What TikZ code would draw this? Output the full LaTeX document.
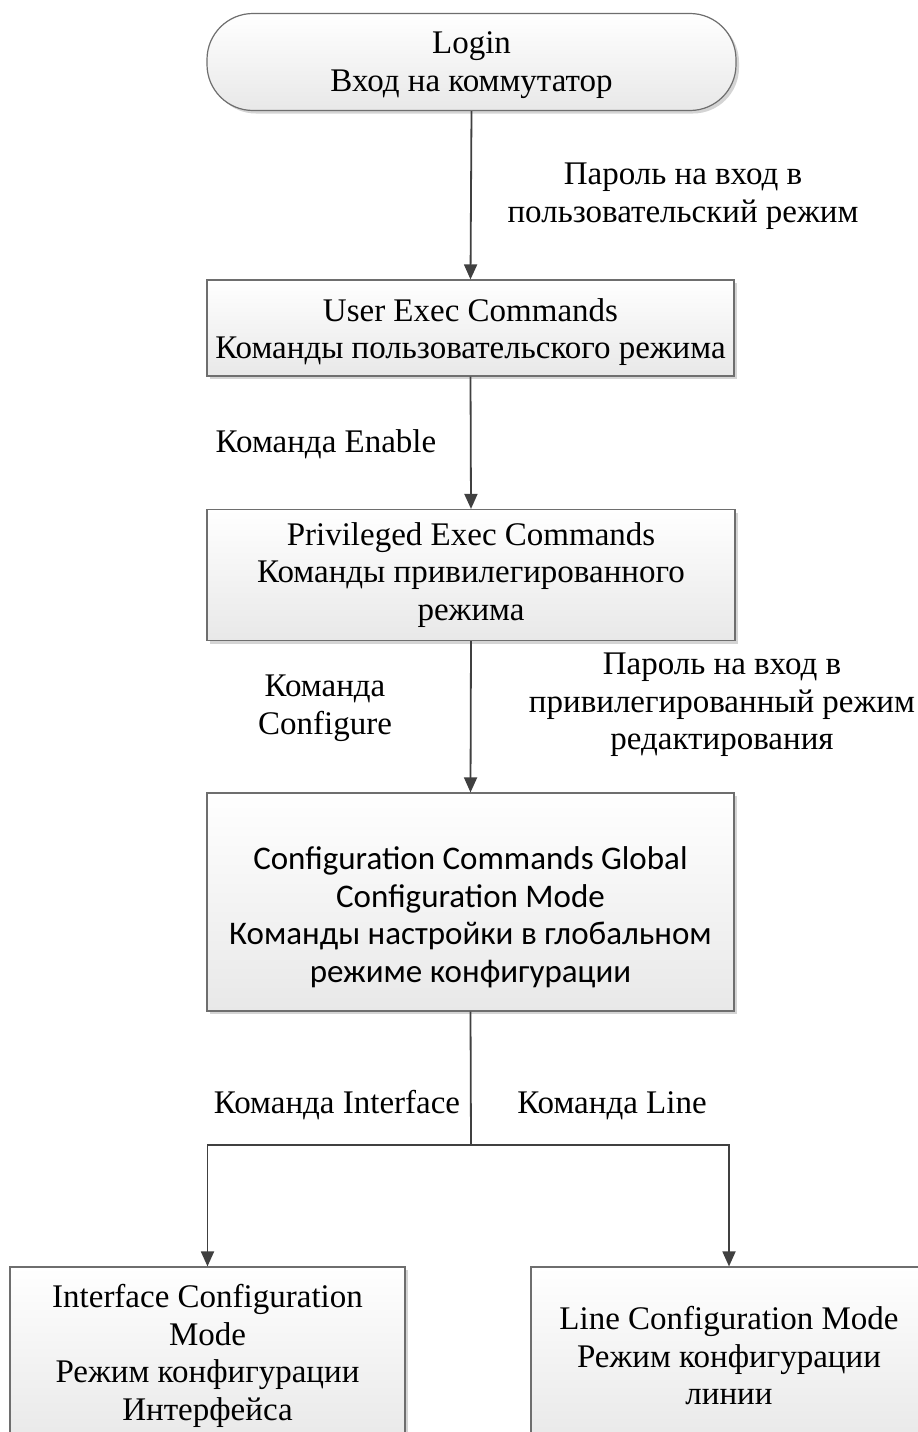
\documentclass[tikz,border=0pt]{standalone}
\usepackage{fontspec}
\setmainfont{Liberation Serif}
\newfontfamily\calib{Carlito}
\usetikzlibrary{arrows.meta,shadows,calc}
\definecolor{linec}{HTML}{404040}
\definecolor{borderc}{HTML}{6E6E6E}
\definecolor{shadowc}{HTML}{D4D4D4}
\tikzset{
  boxbase/.style={draw=borderc, line width=1.2pt, top color=white, bottom color=black!9,
    drop shadow={shadow xshift=3pt, shadow yshift=-3pt, fill=shadowc, opacity=1},
    align=center, inner sep=0pt, font=\fontsize{33}{37.5}\selectfont},
  termbox/.style={boxbase, rounded corners=46pt, minimum width=529pt, minimum height=97pt},
  modebox/.style={boxbase, rectangle},
  lbl/.style={align=center, inner sep=0pt, font=\fontsize{33}{37.5}\selectfont},
  conn/.style={draw=linec, line width=1.8pt},
  arr/.style={conn, -{Triangle[length=15pt,width=13pt]}}
}
\begin{document}
\begin{tikzpicture}[x=1pt,y=-1pt]
\clip (0,0) rectangle (918,1432);
\fill[white] (0,0) rectangle (918,1432);

\node[termbox] (login) at (471.5,62) {};
\node[lbl] (logintext) at ($(login.center)+(0,3)$) {Login\\Вход на коммутатор};
\node[modebox, minimum width=527pt, minimum height=96pt] (user) at (470.5,328) {};
\node[lbl] (usertext) at ($(user.center)+(0,4)$) {User Exec Commands\\Команды пользовательского режима};
\node[modebox, minimum width=528pt, minimum height=131pt] (priv) at (471,575) {Privileged Exec Commands\\Команды привилегированного\\режима};
\node[modebox, minimum width=527pt, minimum height=218pt] (conf) at (470.5,902) {};
\node[lbl, font=\calib\fontsize{33}{37.5}\selectfont] (conftext) at ($(conf.center)+(0,15)$) {Configuration Commands Global\\Configuration Mode\\Команды настройки в глобальном\\режиме конфигурации};
\node[modebox, minimum width=395pt, minimum height=178pt] (iface) at (207.5,1356) {Interface Configuration\\Mode\\Режим конфигурации\\Интерфейса};
\node[modebox, minimum width=396pt, minimum height=178pt] (line) at (729,1356) {Line Configuration Mode\\Режим конфигурации\\линии};

\node[lbl] (l1) at (683,196) {Пароль на вход в\\пользовательский режим};
\node[lbl] (l2) at (326,444) {Команда Enable};
\node[lbl] (l3) at (325,708) {Команда\\Configure};
\node[lbl] (l4) at (722,705) {Пароль на вход в\\привилегированный режим\\редактирования};
\node[lbl, anchor=base] (l5) at (337,1113) {Команда Interface};
\node[lbl, anchor=base] (l6) at (612,1113) {Команда Line};

\coordinate (j) at (471,1145);
\draw[arr] (login.south) -- (user.north);
\draw[arr] (user.south) -- (priv.north);
\draw[arr] (priv.south) -- (conf.north);
\draw[conn] (conf.south) -- (j);
\draw[arr] (j) -| (iface.north);
\draw[arr] (j) -| (line.north);
\end{tikzpicture}
\end{document}
